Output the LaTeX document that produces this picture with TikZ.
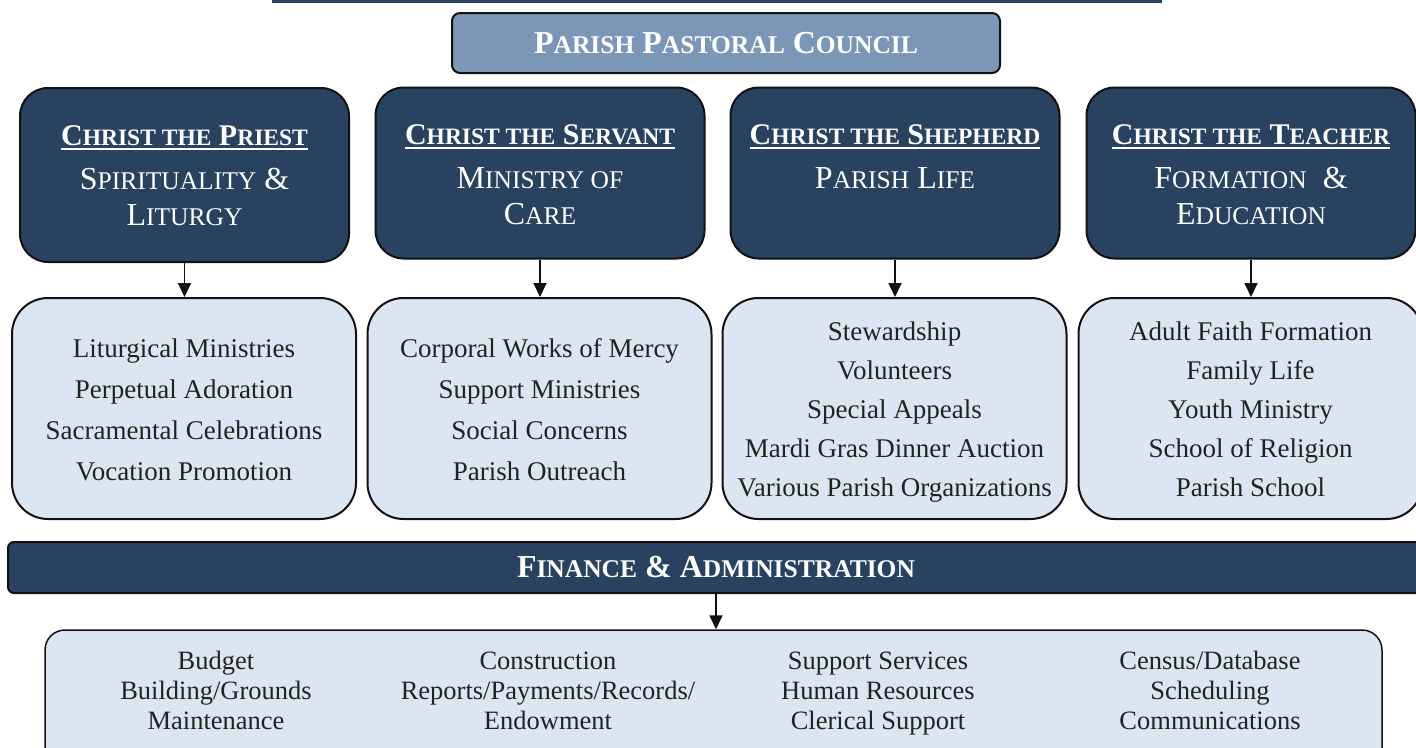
\documentclass[tikz,border=0pt]{standalone}
\usepackage{fontspec}
\setmainfont{Liberation Serif}
\usetikzlibrary{arrows.meta}
\definecolor{navy}{HTML}{294260}
\definecolor{paleblue}{HTML}{DCE6F2}
\definecolor{ppcblue}{HTML}{7B96B6}
\definecolor{textgray}{HTML}{222222}
\definecolor{edge}{HTML}{111111}
\newcommand\smt[1]{{\fontsize{23.5}{23.5}\selectfont #1}}
\newcommand\sms[1]{{\fontsize{25.5}{25.5}\selectfont #1}}
\newcommand\ulx[1]{\setbox0\hbox{#1}\rlap{\rule[-5pt]{\wd0}{2.2pt}}\box0}
\begin{document}
\begin{tikzpicture}[x=1pt,y=-1pt,
  dark/.style={draw=edge, line width=2pt, fill=navy, rounded corners=28pt, minimum width=329pt, minimum height=171pt, inner sep=0pt},
  light/.style={draw=edge, line width=2pt, fill=paleblue, rounded corners=36pt, minimum width=344pt, minimum height=221pt, align=center, text=textgray, inner sep=0pt},
  arr/.style={draw=edge, line width=1.8pt, -{Triangle[width=13pt,length=14pt]}},
  ttl/.style={text=white, align=center, anchor=north, inner sep=0pt, font=\fontsize{32}{36}\selectfont},
  btxt/.style={align=center, text=textgray, inner sep=0pt, font=\fontsize{26.5}{30}\selectfont}
]
\useasboundingbox (0,0) rectangle (1416,747);
\clip (0,0) rectangle (1416,747);
% top rule
\fill[navy] (272,-5) rectangle (1162,3);
% council
\node[draw=edge, line width=2pt, fill=ppcblue, rounded corners=8pt, minimum width=548pt, minimum height=60pt, text=white, font=\bfseries\fontsize{32}{32}\selectfont] (ppc) at (726,43) {P\sms{ARISH} P\sms{ASTORAL} C\sms{OUNCIL}};
% dark boxes
\node[dark, minimum height=174pt] (d1) at (184.5,175) {};
\node[dark] (d2) at (540,173) {};
\node[dark] (d3) at (895,173) {};
\node[dark] (d4) at (1251,173) {};
\node[ttl] (t1) at (184.5,125) {\ulx{\bfseries\fontsize{30}{30}\selectfont C\smt{HRIST THE} P\smt{RIEST}}\\[8pt] S\sms{PIRITUALITY} \&\\ L\sms{ITURGY}};
\node[ttl] (t2) at (540,124) {\ulx{\bfseries\fontsize{30}{30}\selectfont C\smt{HRIST THE} S\smt{ERVANT}}\\[8pt] M\sms{INISTRY OF}\\ C\sms{ARE}};
\node[ttl] (t3) at (895,124) {\ulx{\bfseries\fontsize{30}{30}\selectfont C\smt{HRIST THE} S\smt{HEPHERD}}\\[8pt] P\sms{ARISH} L\sms{IFE}};
\node[ttl] (t4) at (1251,124) {\ulx{\bfseries\fontsize{30}{30}\selectfont C\smt{HRIST THE} T\smt{EACHER}}\\[8pt] F\sms{ORMATION}\ \ \&\\ E\sms{DUCATION}};
% light boxes
\node[light, font=\fontsize{27}{41}\selectfont] (l1) at (184,408.5) {\rule{0pt}{34pt}Liturgical Ministries\\Perpetual Adoration\\Sacramental Celebrations\\Vocation Promotion\strut};
\node[light, font=\fontsize{27}{41}\selectfont] (l2) at (539.5,408.5) {\rule{0pt}{34pt}Corporal Works of Mercy\\Support Ministries\\Social Concerns\\Parish Outreach\strut};
\node[light, font=\fontsize{27}{39}\selectfont] (l3) at (894.5,408.5) {\rule{0pt}{32.5pt}Stewardship\\Volunteers\\Special Appeals\\Mardi Gras Dinner Auction\\Various Parish Organizations\strut};
\node[light, font=\fontsize{27}{39}\selectfont] (l4) at (1250.5,408.5) {\rule{0pt}{32.5pt}Adult Faith Formation\\Family Life\\Youth Ministry\\School of Religion\\Parish School\strut};
\draw[arr] (d1.south) -- (d1.south |- l1.north);
\draw[arr] (d2.south) -- (d2.south |- l2.north);
\draw[arr] (d3.south) -- (d3.south |- l3.north);
\draw[arr] (d4.south) -- (d4.south |- l4.north);
% finance
\node[draw=edge, line width=2pt, fill=navy, rounded corners=6pt, minimum width=1416pt, minimum height=51pt, text=white, font=\bfseries\fontsize{32}{32}\selectfont] (fin) at (716,567.5) {F\sms{INANCE} \& A\sms{DMINISTRATION}};
\node[draw=edge, line width=1.5pt, fill=paleblue, rounded corners=20pt, minimum width=1337pt, minimum height=150pt] (bot) at (713.5,705) {};
\draw[arr] (fin.south) -- (fin.south |- bot.north);
\node[btxt] (b1) at (216,693) {\strut Budget\\Building/Grounds\\Maintenance\strut};
\node[btxt] (b2) at (548,693) {\strut Construction\\Reports/Payments/Records/\\Endowment\strut};
\node[btxt] (b3) at (878,693) {\strut Support Services\\Human Resources\\Clerical Support\strut};
\node[btxt] (b4) at (1210,693) {\strut Census/Database\\Scheduling\\Communications\strut};
\end{tikzpicture}
\end{document}
